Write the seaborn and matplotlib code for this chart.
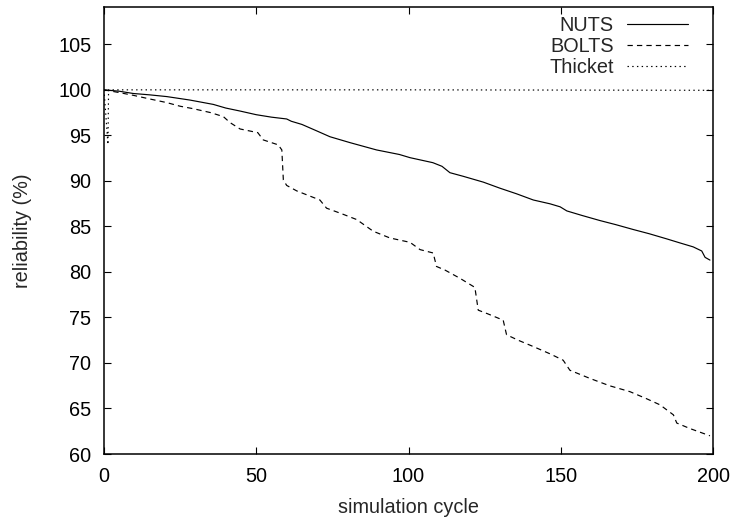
import matplotlib
matplotlib.use("Agg")
import matplotlib.pyplot as plt
import seaborn as sns
import pandas as pd

# ---- data ----
nuts_x = [0, 5, 9.6, 15, 20.6, 28.2, 35.9, 40, 44.7, 50, 55, 60, 61.5, 65, 69.8, 74.2,
          80.8, 89.5, 97, 100.5, 108, 111, 113.6, 118, 124.6, 130, 135.5, 141, 146.5,
          149.8, 152, 157, 162.9, 168, 173.9, 179, 184.8, 189, 193.5, 196.3, 197.4, 199]
nuts_y = [100, 99.85, 99.6, 99.45, 99.26, 98.88, 98.4, 98.0, 97.67, 97.27, 97.0, 96.8, 96.55,
          96.2, 95.5, 94.85, 94.2, 93.4, 92.9, 92.55, 92.0, 91.6, 90.9, 90.5, 89.86, 89.2,
          88.58, 87.9, 87.48, 87.15, 86.7, 86.2, 85.64, 85.2, 84.65, 84.2, 83.63, 83.2,
          82.75, 82.3, 81.6, 81.3]

bolts_x = [0, 5, 9.6, 15, 20.6, 25, 29.3, 35, 39.2, 41.4, 44.7, 50.5, 52.3, 57.2, 58.4,
           58.9, 60, 63.3, 70.9, 73.1, 78, 83, 88.4, 93.9, 100.5, 103.8, 108.1, 109.2, 112,
           116.9, 121.8, 122.9, 126, 131.1, 132.2, 136, 141, 146.5, 150.8, 153, 159.6, 166,
           172.7, 178, 182.6, 187, 188.1, 192.4, 199]
bolts_y = [100, 99.7, 99.4, 99.0, 98.6, 98.2, 97.93, 97.5, 97.06, 96.4, 95.7, 95.3, 94.5,
           93.96, 93.4, 90.1, 89.5, 88.9, 87.9, 87.0, 86.4, 85.75, 84.47, 83.73, 83.25, 82.45,
           82.08, 80.6, 80.2, 79.3, 78.3, 75.8, 75.4, 74.7, 73.1, 72.5, 71.8, 71.0, 70.3,
           69.2, 68.3, 67.5, 66.85, 66.1, 65.4, 64.3, 63.4, 62.8, 62.0]

thicket_x = [0, 1.3, 1.5, 100, 200]
thicket_y = [100, 94, 100, 100, 99.95]

series = ["NUTS", "BOLTS", "Thicket"]
x_ticks = [0, 50, 100, 150, 200]
y_ticks = [60, 65, 70, 75, 80, 85, 90, 95, 100, 105]

# ---- styling ----
sns.set_theme(style="ticks")
plt.rcParams["font.family"] = ["Liberation Sans", "DejaVu Sans"]

FS = 14.3

fig = plt.figure(figsize=(7.36, 5.18), dpi=100)
ax = fig.add_axes([104 / 736, 64 / 518, (713 - 104) / 736, (454 - 7) / 518])

frames = {
    "NUTS": pd.DataFrame({"x": nuts_x, "y": nuts_y}),
    "BOLTS": pd.DataFrame({"x": bolts_x, "y": bolts_y}),
    "Thicket": pd.DataFrame({"x": thicket_x, "y": thicket_y}),
}
styles = {
    "NUTS": "-",
    "BOLTS": (0, (4.5, 3.5)),
    "Thicket": (0, (1.2, 2.8)),
}
for name in series:
    sns.lineplot(data=frames[name], x="x", y="y", ax=ax, color="black",
                 linestyle=styles[name], linewidth=0.85, estimator=None,
                 sort=False, label=name)

ax.set_xlim(0, 200)
ax.set_ylim(60, 109.1)
ax.set_xticks(x_ticks)
ax.set_yticks(y_ticks)
ax.tick_params(direction="in", length=5, width=0.8, top=True, right=True,
               labelsize=FS, pad=9, colors="black")
for s in ax.spines.values():
    s.set_linewidth(1.1)
    s.set_color("black")

ax.set_xlabel("simulation cycle", fontsize=FS, labelpad=9)
ax.set_ylabel("reliability (%)", fontsize=FS, labelpad=19)

leg = ax.legend(loc="upper right", markerfirst=False, frameon=False, fontsize=FS,
                handlelength=3.1, handletextpad=0.65, labelspacing=0.12,
                borderaxespad=0.3, bbox_to_anchor=(0.982, 1.012))

fig.savefig("out.png", dpi=100)
